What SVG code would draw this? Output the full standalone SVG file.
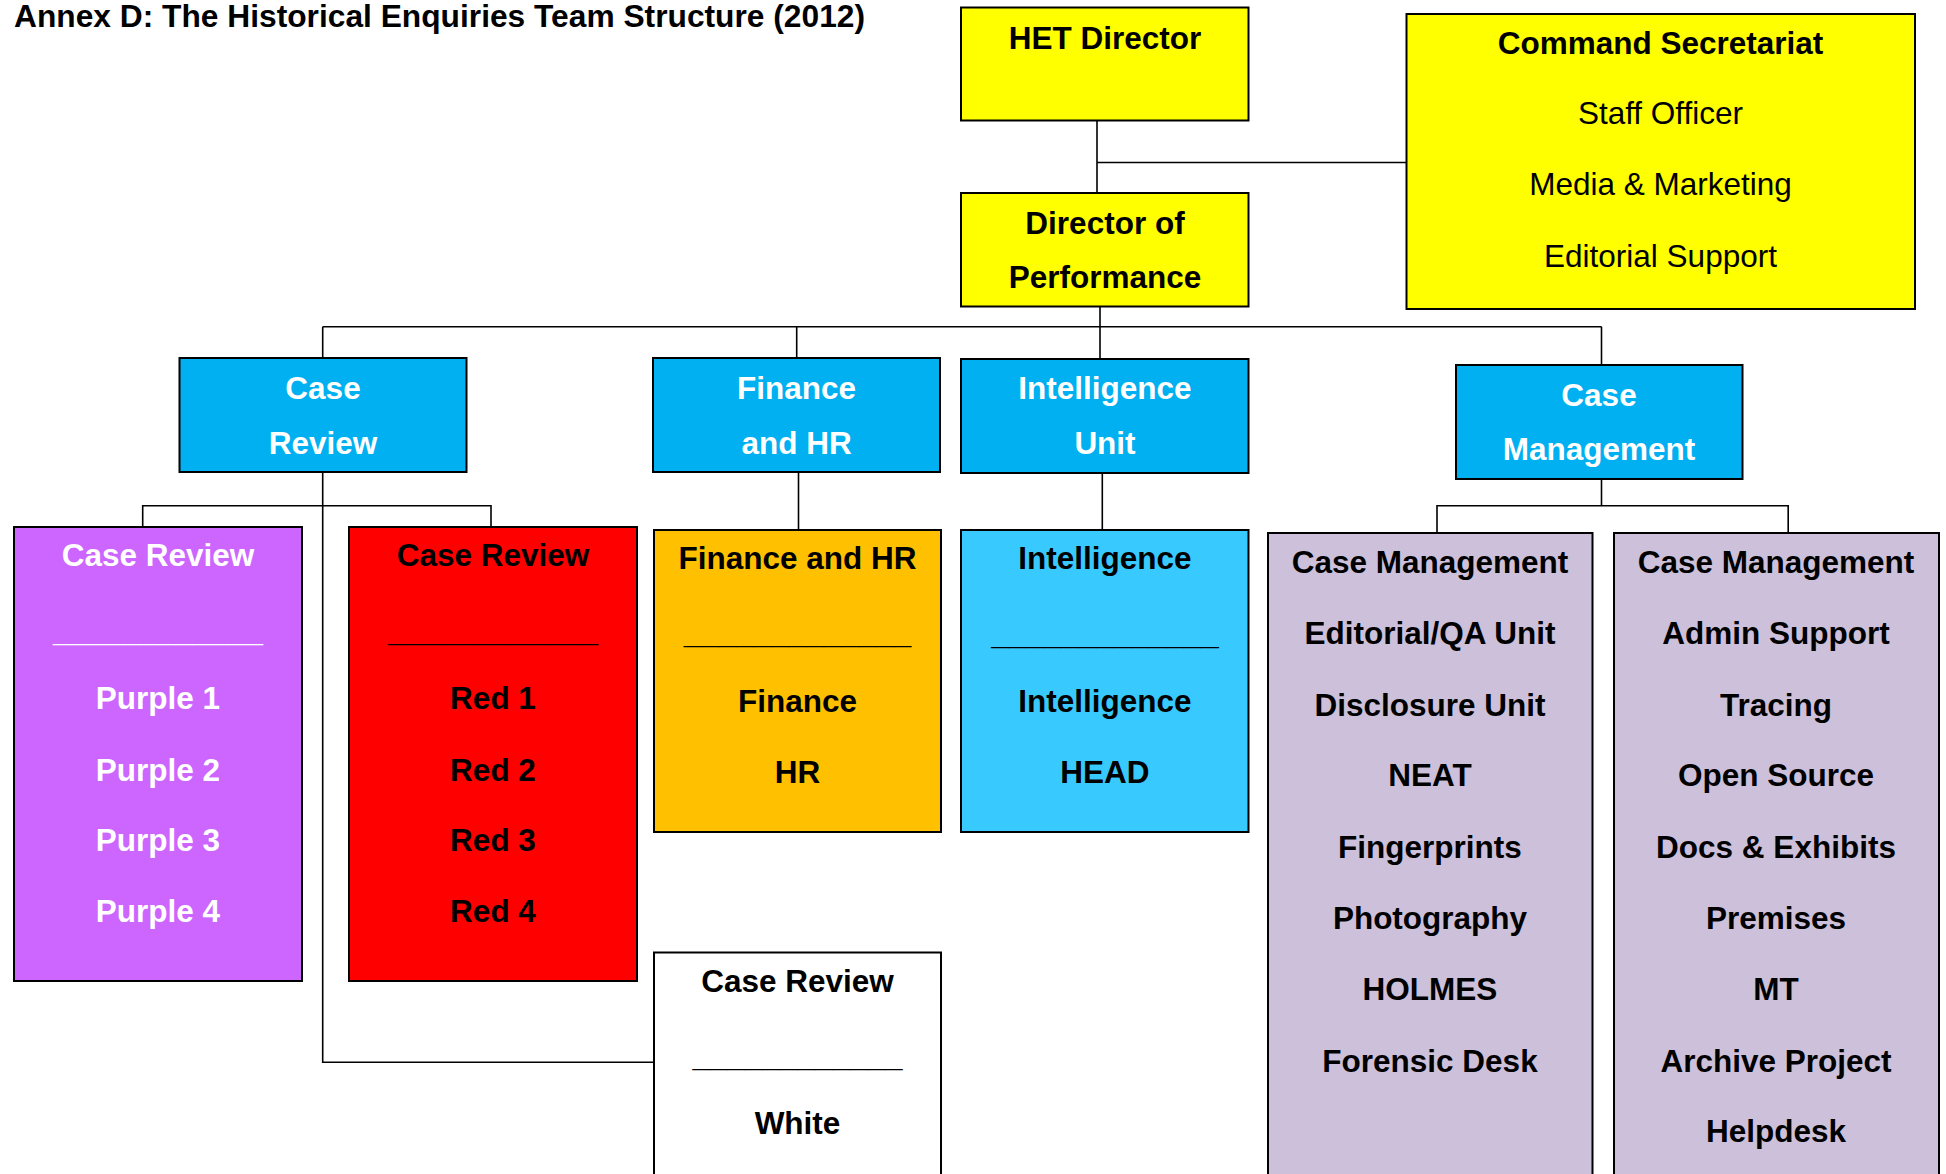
<svg xmlns="http://www.w3.org/2000/svg" width="1946" height="1174" viewBox="0 0 1946 1174">
<style>
  text { font-family: "Liberation Sans", Arial, sans-serif; font-size: 31.5px; font-weight: bold; text-anchor: middle; fill: #000; }
  text.w { fill: #fff; }
  text.reg { font-weight: normal; }
  text.title { text-anchor: start; font-size: 31.5px; }
  rect.box { stroke: #000; stroke-width: 2; }
  .yellow { fill: #FFFF00; }
  .blue { fill: #00B0F0; }
  .purple { fill: #CC66FF; }
  .red { fill: #FF0000; }
  .orange { fill: #FFC000; }
  .lblue { fill: #38C9FF; }
  .lav { fill: #CCC0DA; }
  .white { fill: #FFFFFF; }
  #connectors path { fill: none; stroke: #000; stroke-width: 1.6; }
</style>
<rect x="0" y="0" width="1946" height="1174" fill="#fff"/>
<text class="title" x="14" y="27" textLength="851" lengthAdjust="spacingAndGlyphs">Annex D: The Historical Enquiries Team Structure (2012)</text>

<g id="connectors">
  <path d="M1097,121 V193"/>
  <path d="M1097,162.5 H1406"/>
  <path d="M1100,307 V359"/>
  <path d="M322.7,326.7 H1601.5"/>
  <path d="M322.7,326.7 V358"/>
  <path d="M796.7,326.7 V358"/>
  <path d="M1601.5,326.7 V365"/>
  <path d="M322.7,472 V1062.3 H654"/>
  <path d="M142.7,527 V505.7 H491 V527"/>
  <path d="M798.5,472 V530"/>
  <path d="M1102.3,473 V530"/>
  <path d="M1601.5,479 V505.7"/>
  <path d="M1437,533 V505.7 H1788.2 V533"/>
</g>

<g id="het-director">
  <rect class="box yellow" x="961" y="7.5" width="287.5" height="113"/>
  <text x="1105" y="48.5">HET Director</text>
</g>

<g id="command-secretariat">
  <rect class="box yellow" x="1406.5" y="14" width="508.5" height="295"/>
  <text x="1660.5" y="53.5">Command Secretariat</text>
  <text class="reg" x="1660.5" y="124">Staff Officer</text>
  <text class="reg" x="1660.5" y="195">Media &amp; Marketing</text>
  <text class="reg" x="1660.5" y="266.5">Editorial Support</text>
</g>

<g id="director-performance">
  <rect class="box yellow" x="961" y="193" width="287.5" height="113.5"/>
  <text x="1105" y="233.5">Director of</text>
  <text x="1105" y="287.5">Performance</text>
</g>

<g id="case-review">
  <rect class="box blue" x="179.5" y="358" width="287" height="114"/>
  <text class="w" x="323" y="399">Case</text>
  <text class="w" x="323" y="454">Review</text>
</g>

<g id="finance-hr">
  <rect class="box blue" x="653" y="358" width="287" height="114"/>
  <text class="w" x="796.5" y="399">Finance</text>
  <text class="w" x="796.5" y="454">and HR</text>
</g>

<g id="intelligence-unit">
  <rect class="box blue" x="961" y="359" width="287.5" height="114"/>
  <text class="w" x="1105" y="399">Intelligence</text>
  <text class="w" x="1105" y="454">Unit</text>
</g>

<g id="case-management">
  <rect class="box blue" x="1456" y="365" width="286.5" height="114"/>
  <text class="w" x="1599" y="406">Case</text>
  <text class="w" x="1599" y="460">Management</text>
</g>

<g id="purple-team">
  <rect class="box purple" x="14" y="527" width="288" height="454"/>
  <text class="w" x="158" y="565.7">Case Review</text>
  <text class="w" x="158" y="641">____________</text>
  <text class="w" x="158" y="709.3">Purple 1</text>
  <text class="w" x="158" y="780.7">Purple 2</text>
  <text class="w" x="158" y="850.7">Purple 3</text>
  <text class="w" x="158" y="922.3">Purple 4</text>
</g>

<g id="red-team">
  <rect class="box red" x="349" y="527" width="288" height="454"/>
  <text x="493" y="565.7">Case Review</text>
  <text x="493" y="641">____________</text>
  <text x="493" y="709.3">Red 1</text>
  <text x="493" y="780.7">Red 2</text>
  <text x="493" y="850.7">Red 3</text>
  <text x="493" y="922.3">Red 4</text>
</g>

<g id="finance-hr-team">
  <rect class="box orange" x="654" y="530" width="287" height="302"/>
  <text x="797.5" y="569.3">Finance and HR</text>
  <text x="797.5" y="642.5">_____________</text>
  <text x="797.5" y="711.7">Finance</text>
  <text x="797.5" y="783.3">HR</text>
</g>

<g id="intelligence-team">
  <rect class="box lblue" x="961" y="530" width="287.5" height="302"/>
  <text x="1105" y="569.3">Intelligence</text>
  <text x="1105" y="643.5">_____________</text>
  <text x="1105" y="712">Intelligence</text>
  <text x="1105" y="783">HEAD</text>
</g>

<g id="case-management-left">
  <rect class="box lav" x="1268" y="533" width="324.5" height="700"/>
  <text x="1430" y="573.3">Case Management</text>
  <text x="1430" y="644.3">Editorial/QA Unit</text>
  <text x="1430" y="715.7">Disclosure Unit</text>
  <text x="1430" y="786">NEAT</text>
  <text x="1430" y="858.3">Fingerprints</text>
  <text x="1430" y="929.3">Photography</text>
  <text x="1430" y="1000">HOLMES</text>
  <text x="1430" y="1071.7">Forensic Desk</text>
</g>

<g id="case-management-right">
  <rect class="box lav" x="1614" y="533" width="325" height="700"/>
  <text x="1776" y="573.3">Case Management</text>
  <text x="1776" y="644.3">Admin Support</text>
  <text x="1776" y="715.7">Tracing</text>
  <text x="1776" y="786">Open Source</text>
  <text x="1776" y="858.3">Docs &amp; Exhibits</text>
  <text x="1776" y="929.3">Premises</text>
  <text x="1776" y="1000">MT</text>
  <text x="1776" y="1071.7">Archive Project</text>
  <text x="1776" y="1141.7">Helpdesk</text>
</g>

<g id="white-team">
  <rect class="box white" x="654" y="952.5" width="287" height="300"/>
  <text x="797.5" y="991.7">Case Review</text>
  <text x="797.5" y="1066">____________</text>
  <text x="797.5" y="1134.3">White</text>
</g>
</svg>
